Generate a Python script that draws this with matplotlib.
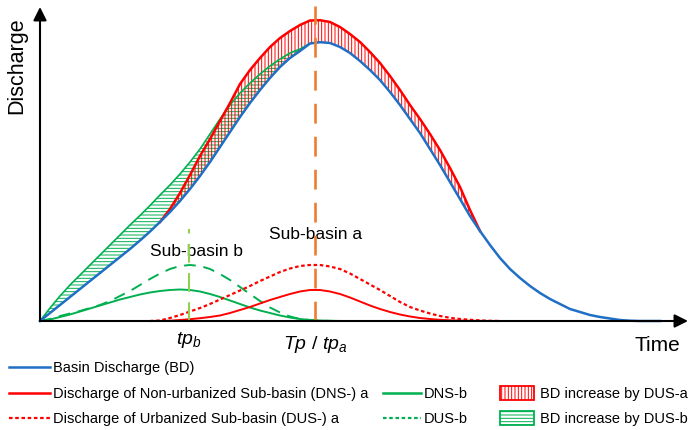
import matplotlib.pyplot as plt
from matplotlib.patches import Rectangle

plt.rcParams['font.family'] = ['Liberation Sans', 'DejaVu Sans']
plt.rcParams['mathtext.fontset'] = 'custom'
plt.rcParams['mathtext.rm'] = 'Liberation Sans'
plt.rcParams['mathtext.it'] = 'Liberation Sans:italic'
plt.rcParams['hatch.linewidth'] = 0.7

# basin hydrograph, sampled every 10 time units (arbitrary units)
t_basin = list(range(0, 630, 10))
bd = [0, 8, 16, 24, 32, 40, 48, 56, 64, 72,
      80.5, 89.5, 99, 109, 120, 132, 145, 159, 174, 189,
      204, 218, 231, 243, 254, 263, 270, 277.5, 278.8, 278,
      274, 268, 260, 251, 241, 229, 216, 202, 188, 172,
      156, 139, 122, 105, 90, 76, 63, 52, 43, 35,
      28, 22, 17, 12, 9, 6, 4, 2.5, 1, 0.3,
      0, 0, 0]
# increase of basin discharge caused by urbanisation of sub-basin a / b
inc_a = [0] * 13 + [3, 8, 14, 20, 23, 26, 29, 33, 33, 32,
                    31, 29, 27, 26, 23, 22, 21, 20, 19, 19,
                    18, 17, 16, 15, 14, 14, 15, 15, 14, 12,
                    6] + [0] * 19
inc_b = [0, 5, 9, 12, 14, 16, 18, 20, 22, 24,
         25, 26, 27, 27, 27, 27, 27, 28, 28, 27,
         24, 20, 16, 12, 8, 5, 2, 0] + [0] * 35

# sub-basin b hydrographs
t_b = list(range(0, 310, 10))
dns_b = [0, 1.5, 4, 6.5, 9.5, 12.5, 15.5, 18.5, 21.5, 24,
         26.5, 28.5, 30, 31, 31.5, 31, 29.5, 27, 24, 20.5,
         17, 13.5, 10.5, 8, 5.5, 3.5, 2, 1, 0.5, 0.2, 0]
dus_b = [0, 2, 5, 7.5, 10, 13, 16, 20, 25, 30,
         36, 42, 47.5, 52, 55, 56, 55, 52, 47, 41,
         34, 27, 20, 13.5, 8.5, 4.5, 2, 1, 0.4, 0.1, 0]

# sub-basin a hydrographs
t_a = list(range(110, 470, 10))
dns_a = [0, 0, 0.3, 1, 1.8, 2.8, 4, 5.5, 8, 11,
         14, 17.5, 21, 24, 27, 29.5, 31, 31, 29.5, 27,
         23.5, 19.5, 15.5, 12, 9, 6.5, 4.5, 3, 2, 1.2,
         0.7, 0.4, 0.2, 0.1, 0, 0]
dus_a = [0, 0.5, 3, 6, 9.5, 13, 17, 21.5, 26, 30.5,
         35, 40, 44.5, 49, 52.5, 55, 56, 56, 54.5, 52,
         47.5, 42, 36.5, 31, 25, 19, 14, 10.5, 7.5, 5,
         3.2, 2, 1.2, 0.6, 0.2, 0]

tp_b = 149
Tp = 275

BLUE = '#1f6fc5'
RED = '#ff0000'
GREEN = '#00b050'
LGREEN = '#92d050'
ORANGE = '#ed7d31'

fig = plt.figure(figsize=(6.89, 4.31), dpi=100)
ax = fig.add_axes([0, 0, 1, 1])
ax.set_xlim(-40, 649)
ax.set_ylim(-109, 322)
ax.axis('off')


def span(inc):
    idx = [i for i, v in enumerate(inc) if v > 0]
    return max(idx[0] - 1, 0), min(idx[-1] + 2, len(inc))


red_top = [b + d for b, d in zip(bd, inc_a)]
green_top = [b + d for b, d in zip(bd, inc_b)]
a0, a1 = span(inc_a)
b0, b1 = span(inc_b)

# hatched increase bands
ax.fill_between(t_basin[b0:b1], bd[b0:b1], green_top[b0:b1], facecolor='none',
                edgecolor=GREEN, hatch='-----', linewidth=0, zorder=2)
ax.fill_between(t_basin[a0:a1], bd[a0:a1], red_top[a0:a1], facecolor='none',
                edgecolor=RED, hatch='|||||', linewidth=0, zorder=2)
ax.plot(t_basin[b0:b1], green_top[b0:b1], color=GREEN, lw=1.2, zorder=3)
ax.plot(t_basin[a0:a1], red_top[a0:a1], color=RED, lw=1.8, zorder=3)
ax.plot(t_basin, bd, color=BLUE, lw=1.8, zorder=4)

# sub-basin hydrographs
ax.plot(t_b, dns_b, color=GREEN, lw=1.4, zorder=3)
ax.plot(t_b, dus_b, color=GREEN, lw=1.4, ls=(0, (6, 4)), zorder=3)
ax.plot(t_a, dns_a, color=RED, lw=1.4, zorder=3)
ax.plot(t_a, dus_a, color=RED, lw=1.6, ls=(0, (1.6, 1.2)), zorder=3)

# peak time markers
ax.vlines(Tp, 0, 315, color=ORANGE, lw=1.9, linestyles=[(0, (7.5, 5))], zorder=5)
ax.vlines(tp_b, 0, 92, color=LGREEN, lw=1.5, linestyles=[(0, (9, 5))], zorder=5)

# axes with arrows
arrow = dict(arrowstyle='-|>', color='black', lw=1.5, mutation_scale=20,
             shrinkA=0, shrinkB=0)
ax.annotate('', xy=(648, 0), xytext=(0, 0), arrowprops=arrow, zorder=6)
ax.annotate('', xy=(0, 314), xytext=(0, 0), arrowprops=arrow, zorder=6)

ax.text(-23, 256, 'Discharge', rotation=90, fontsize=15.5, ha='center', va='center')
ax.text(617, -24, 'Time', fontsize=15, ha='center', va='center')
ax.text(tp_b, -18, r'$tp_b$', fontsize=14, ha='center', va='center')
ax.text(Tp, -23, r'$Tp\ /\ tp_a$', fontsize=14, ha='center', va='center')
ax.text(156, 70, 'Sub-basin b', fontsize=12.5, ha='center', va='center')
ax.text(276, 87, 'Sub-basin a', fontsize=12.5, ha='center', va='center')


# legend (rows below the plot)
def legend_line(x0, x1, row, text, **kw):
    y = 322 - row
    ax.plot([x0 - 40, x1 - 40], [y, y], **kw)
    ax.text(x1 - 37, y, text, fontsize=10.5, ha='left', va='center')


def legend_patch(x0, row, text, color, hatch):
    y = 322 - row
    ax.add_patch(Rectangle((x0 - 40, y - 7), 34, 14, facecolor='white',
                           edgecolor=color, hatch=hatch, lw=1.3))
    ax.text(x0 - 40 + 40, y, text, fontsize=10.5, ha='left', va='center')


legend_line(9, 50, 368, 'Basin Discharge (BD)', color=BLUE, lw=1.8)
legend_line(9, 50, 394, 'Discharge of Non-urbanized Sub-basin (DNS-) a', color=RED, lw=1.8)
legend_line(9, 50, 419, 'Discharge of Urbanized Sub-basin (DUS-) a', color=RED, lw=1.6,
            ls=(0, (1.6, 1.2)))
legend_line(383, 421, 394, 'DNS-b', color=GREEN, lw=1.8)
legend_line(383, 421, 419, 'DUS-b', color=GREEN, lw=1.6, ls=(0, (1.6, 1.2)))
legend_patch(500, 394, 'BD increase by DUS-a', RED, '|||||')
legend_patch(500, 419, 'BD increase by DUS-b', GREEN, '-----')

fig.savefig('out.png', dpi=100)
